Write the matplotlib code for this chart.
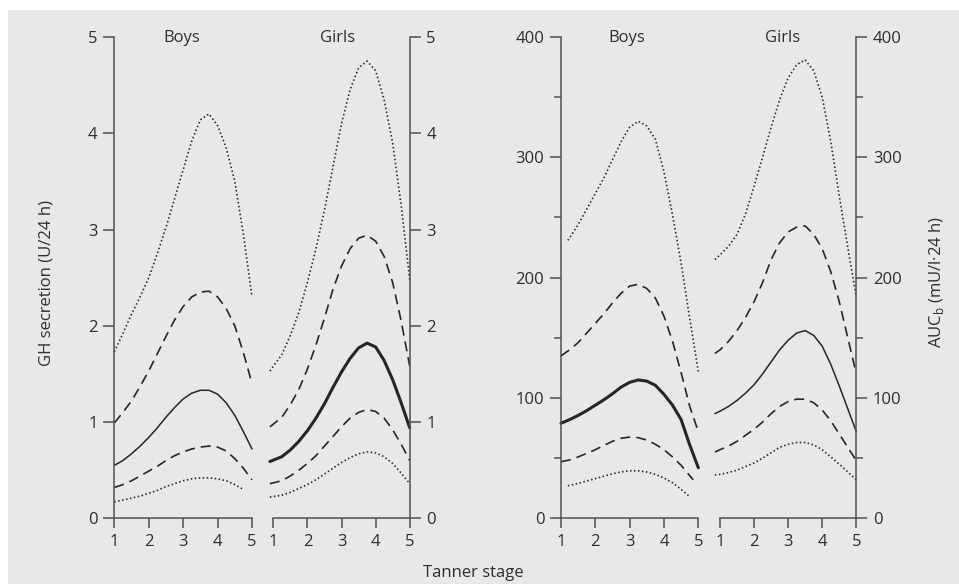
import matplotlib
matplotlib.use("Agg")
import matplotlib.pyplot as plt
from matplotlib.patches import Rectangle
from matplotlib.ticker import MultipleLocator

plt.rcParams['font.family'] = ['Open Sans', 'DejaVu Sans']
plt.rcParams['mathtext.fontset'] = 'custom'
plt.rcParams['mathtext.rm'] = 'Open Sans'

# ---------------- data ----------------
stages_full = [1, 1.25, 1.5, 1.75, 2, 2.25, 2.5, 2.75, 3, 3.25, 3.5, 3.75, 4, 4.25, 4.5, 4.75, 5]
tick_stages = [1, 2, 3, 4, 5]

# GH secretion (U/24 h) - boys
gh_boys_x = stages_full
gh_boys_p97 = [1.73, 1.92, 2.12, 2.3, 2.5, 2.75, 3.02, 3.32, 3.62, 3.92, 4.14, 4.2, 4.08, 3.85, 3.5, 2.95, 2.3]
gh_boys_p75 = [0.99, 1.1, 1.22, 1.37, 1.53, 1.71, 1.89, 2.06, 2.2, 2.3, 2.35, 2.36, 2.3, 2.18, 2.0, 1.72, 1.4]
gh_boys_p50 = [0.55, 0.6, 0.67, 0.75, 0.84, 0.94, 1.05, 1.15, 1.24, 1.3, 1.33, 1.33, 1.29, 1.2, 1.07, 0.9, 0.72]
gh_boys_p25 = [0.32, 0.35, 0.39, 0.44, 0.49, 0.54, 0.6, 0.65, 0.69, 0.72, 0.74, 0.75, 0.74, 0.7, 0.62, 0.52, 0.4]
gh_boys_p3_x = [1, 1.25, 1.5, 1.75, 2, 2.25, 2.5, 2.75, 3, 3.25, 3.5, 3.75, 4, 4.25, 4.5, 4.75]
gh_boys_p3 = [0.17, 0.19, 0.21, 0.23, 0.26, 0.29, 0.33, 0.36, 0.39, 0.41, 0.42, 0.42, 0.41, 0.39, 0.35, 0.30]

# GH secretion (U/24 h) - girls
gh_girls_x = [0.9, 1.25, 1.5, 1.75, 2, 2.25, 2.5, 2.75, 3, 3.25, 3.5, 3.75, 4, 4.25, 4.5, 4.75, 5]
gh_girls_p97 = [1.53, 1.7, 1.9, 2.14, 2.45, 2.8, 3.2, 3.65, 4.1, 4.45, 4.68, 4.75, 4.65, 4.35, 3.9, 3.25, 2.48]
gh_girls_p75 = [0.95, 1.05, 1.18, 1.34, 1.55, 1.8, 2.08, 2.38, 2.62, 2.8, 2.91, 2.94, 2.88, 2.72, 2.45, 2.05, 1.58]
gh_girls_p50 = [0.59, 0.64, 0.71, 0.8, 0.91, 1.04, 1.19, 1.36, 1.52, 1.66, 1.77, 1.82, 1.78, 1.64, 1.44, 1.2, 0.94]
gh_girls_p25 = [0.36, 0.39, 0.44, 0.5, 0.57, 0.65, 0.75, 0.85, 0.95, 1.04, 1.1, 1.13, 1.11, 1.04, 0.92, 0.77, 0.60]
gh_girls_p3 = [0.22, 0.24, 0.27, 0.31, 0.35, 0.4, 0.46, 0.52, 0.58, 0.63, 0.67, 0.69, 0.68, 0.64, 0.57, 0.47, 0.36]

# AUCb (mU/l.24 h) - boys
auc_boys_p97_x = [1.2, 1.5, 1.75, 2, 2.25, 2.5, 2.75, 3, 3.25, 3.5, 3.75, 4, 4.25, 4.5, 4.75, 5]
auc_boys_p97 = [231, 244, 257, 270, 283, 298, 313, 325, 330, 326, 315, 288, 252, 212, 166, 122]
auc_boys_p75 = [135, 140, 146, 154, 162, 170, 179, 187, 193, 194.5, 191, 183, 168, 147, 121, 93, 72]
auc_boys_p50 = [79, 82, 85.5, 89.5, 94, 98.5, 103.5, 109, 113, 115, 114, 110.5, 103, 94, 82, 61, 42]
auc_boys_p25_x = [1, 1.25, 1.5, 1.75, 2, 2.25, 2.5, 2.75, 3, 3.25, 3.5, 3.75, 4, 4.25, 4.5, 4.85]
auc_boys_p25 = [47, 48.5, 51, 54, 57, 60.5, 64, 66.5, 67.5, 67, 65, 61.5, 57, 51, 44, 32]
auc_boys_p3_x = [1.2, 1.5, 1.75, 2, 2.25, 2.5, 2.75, 3, 3.25, 3.5, 3.75, 4, 4.25, 4.5, 4.73]
auc_boys_p3 = [27, 29, 31, 33, 35, 37, 38.5, 39.5, 39.5, 38.5, 36.5, 33.5, 29.5, 24, 18.5]

# AUCb (mU/l.24 h) - girls
auc_girls_x = [0.85, 1, 1.25, 1.5, 1.75, 2, 2.25, 2.5, 2.75, 3, 3.25, 3.5, 3.75, 4, 4.25, 4.5, 4.75, 5]
auc_girls_p97 = [215, 219, 226, 236, 253, 276, 300, 325, 348, 366, 377, 381, 372, 350, 313, 268, 225, 184]
auc_girls_p75 = [137, 140, 147, 156, 167, 180, 196, 215, 229, 238, 242, 243, 236, 224, 205, 180, 150, 120]
auc_girls_p50 = [87, 89, 93, 98, 104, 111, 120, 130, 140, 148, 154, 156, 152, 143, 128, 110, 91, 72]
auc_girls_p25 = [55, 57, 60, 64, 69, 74, 80, 87, 93, 97, 99, 99, 96, 90, 81, 70, 59, 48]
auc_girls_p3 = [36, 36.5, 38, 40, 43, 46, 50, 54.5, 59, 61.5, 63, 63, 61, 57, 51, 45, 38.5, 32]

gh_ticks = [0, 1, 2, 3, 4, 5]
auc_ticks = [0, 100, 200, 300, 400]

# ---------------- figure ----------------
W, H = 959, 584
FS = 12
fig = plt.figure(figsize=(W / 100, H / 100), dpi=100)
fig.patch.set_facecolor('white')
fig.patches.append(Rectangle((8 / W, 0), 1 - 8 / W, (H - 10) / H, transform=fig.transFigure,
                             facecolor='#e8e8e8', edgecolor='none', zorder=-10))

AX_COL = '#505050'
LN_COL = '#262626'
TXT_COL = '#2e2e2e'
y_top, y_bot = 37, 518.3


def make_ax(x0, x1, side, ylim):
    ax = fig.add_axes([x0 / W, 1 - y_bot / H, (x1 - x0) / W, (y_bot - y_top) / H])
    ax.set_facecolor('none')
    ax.set_xlim(1, 5)
    ax.set_ylim(*ylim)
    for s in ['top', 'left', 'right', 'bottom']:
        ax.spines[s].set_visible(False)
    ax.spines['bottom'].set_visible(True)
    ax.spines[side].set_visible(True)
    for s in ['bottom', side]:
        ax.spines[s].set_color(AX_COL)
        ax.spines[s].set_linewidth(1.1)
    ax.set_xticks(tick_stages)
    ax.set_xticklabels([str(t) for t in tick_stages])
    ax.tick_params(axis='x', direction='out', length=7, width=1.1, color=AX_COL,
                   labelsize=FS, labelcolor=TXT_COL, pad=4)
    if side == 'left':
        ax.yaxis.tick_left()
    else:
        ax.yaxis.tick_right()
    ax.tick_params(axis='y', which='major', direction='out', length=8, width=1.1, color=AX_COL,
                   labelsize=FS, labelcolor=TXT_COL, pad=4)
    ax.tick_params(axis='y', which='minor', direction='out', length=5, width=1.1, color=AX_COL)
    return ax


def draw(ax, x, y, kind, thick=False):
    if kind == 'dot':
        ax.plot(x, y, color=LN_COL, lw=1.2, linestyle=(0, (0.9, 1.5)), clip_on=False)
    elif kind == 'dash':
        ax.plot(x, y, color=LN_COL, lw=1.2, linestyle=(0, (6.0, 3.6)), clip_on=False)
    else:
        ax.plot(x, y, color=LN_COL, lw=2.2 if thick else 1.1, linestyle='-', clip_on=False,
                solid_capstyle='round', solid_joinstyle='round')


ax1 = make_ax(114.3, 252.0, 'left', (0, 5))
ax2 = make_ax(273.3, 409.7, 'right', (0, 5))
ax3 = make_ax(561.0, 698.3, 'left', (0, 400))
ax4 = make_ax(720.0, 856.3, 'right', (0, 400))

for ax in (ax1, ax2):
    ax.set_yticks(gh_ticks)
    ax.set_yticklabels([str(t) for t in gh_ticks])
for ax in (ax3, ax4):
    ax.set_yticks(auc_ticks)
    ax.set_yticklabels([str(t) for t in auc_ticks])
    ax.yaxis.set_minor_locator(MultipleLocator(50))

# GH boys
draw(ax1, gh_boys_x, gh_boys_p97, 'dot')
draw(ax1, gh_boys_x, gh_boys_p75, 'dash')
draw(ax1, gh_boys_x, gh_boys_p50, 'solid')
draw(ax1, gh_boys_x, gh_boys_p25, 'dash')
draw(ax1, gh_boys_p3_x, gh_boys_p3, 'dot')
# GH girls
draw(ax2, gh_girls_x, gh_girls_p97, 'dot')
draw(ax2, gh_girls_x, gh_girls_p75, 'dash')
draw(ax2, gh_girls_x, gh_girls_p50, 'solid', thick=True)
draw(ax2, gh_girls_x, gh_girls_p25, 'dash')
draw(ax2, gh_girls_x, gh_girls_p3, 'dot')
# AUC boys
draw(ax3, auc_boys_p97_x, auc_boys_p97, 'dot')
draw(ax3, stages_full, auc_boys_p75, 'dash')
draw(ax3, stages_full, auc_boys_p50, 'solid', thick=True)
draw(ax3, auc_boys_p25_x, auc_boys_p25, 'dash')
draw(ax3, auc_boys_p3_x, auc_boys_p3, 'dot')
# AUC girls
draw(ax4, auc_girls_x, auc_girls_p97, 'dot')
draw(ax4, auc_girls_x, auc_girls_p75, 'dash')
draw(ax4, auc_girls_x, auc_girls_p50, 'solid')
draw(ax4, auc_girls_x, auc_girls_p25, 'dash')
draw(ax4, auc_girls_x, auc_girls_p3, 'dot')

# titles
for label, xp in [('Boys', 182), ('Girls', 338), ('Boys', 627), ('Girls', 783)]:
    fig.text(xp / W, 1 - 42.5 / H, label, ha='center', va='baseline', fontsize=FS, color=TXT_COL)

fig.text(47 / W, 1 - 283 / H, 'GH secretion (U/24 h)', rotation=90, ha='center', va='center',
         fontsize=FS, color=TXT_COL)
fig.text(936.7 / W, 1 - 282 / H, r'AUC$_\mathrm{b}$ (mU/l·24 h)', rotation=90, ha='center',
         va='center', fontsize=FS, color=TXT_COL)
fig.text(473 / W, 1 - 577 / H, 'Tanner stage', ha='center', va='baseline', fontsize=FS,
         color=TXT_COL)

fig.savefig('out.png', dpi=100, facecolor=fig.get_facecolor())
